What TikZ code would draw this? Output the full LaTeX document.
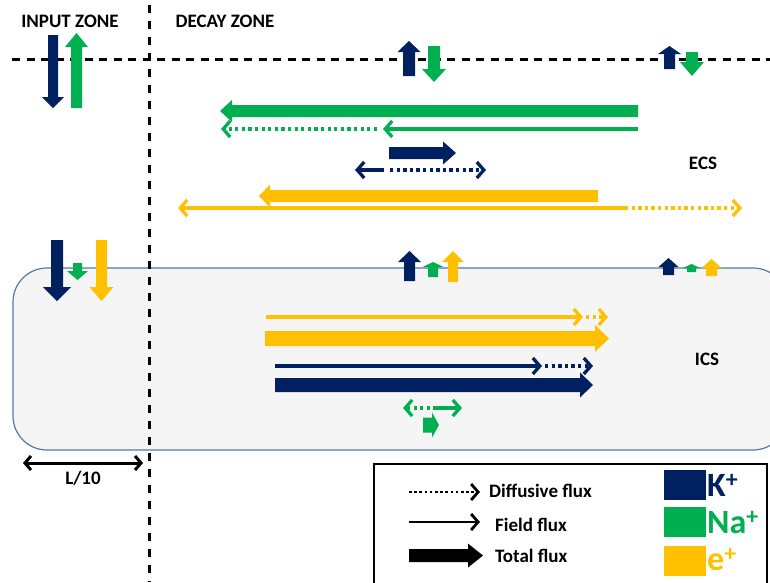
\documentclass[tikz,border=0pt]{standalone}
\usepackage{fontspec}
\setmainfont{Carlito}
\usetikzlibrary{arrows.meta}
\definecolor{navy}{HTML}{002060}
\definecolor{grn}{HTML}{00B050}
\definecolor{ylw}{HTML}{FFC000}
\definecolor{membr}{HTML}{5876A6}
\definecolor{cellfill}{HTML}{F5F5F5}
\newcommand\blockH[7]{\fill[#1] (#2,{#5-#6}) -- (#3,{#5-#6}) -- (#3,{#5-#7}) -- (#4,#5) -- (#3,{#5+#7}) -- (#3,{#5+#6}) -- (#2,{#5+#6}) -- cycle;}
\newcommand\blockV[7]{\fill[#1] ({#5-#6},#2) -- ({#5-#6},#3) -- ({#5-#7},#3) -- (#5,#4) -- ({#5+#7},#3) -- ({#5+#6},#3) -- ({#5+#6},#2) -- cycle;}
\tikzset{
  lbl/.style={font=\fontsize{19}{21}\selectfont\bfseries, inner sep=0pt},
  ion/.style={font=\fontsize{34}{36}\selectfont\bfseries, inner sep=0pt, anchor=west},
  fld/.style={line width=3.3pt, -{Straight Barb[length=7pt,width=16pt]}},
  dif/.style={fld, dash pattern=on 3.3pt off 3.3pt},
  zoneline/.style={line width=3pt, black},
}
\begin{document}
\begin{tikzpicture}[x=1pt,y=-1pt]
\useasboundingbox (0,0) rectangle (770,582);
% cell (ICS)
\begin{scope}
\clip (0,0) rectangle (770,582);
\draw[membr, line width=1.2pt, fill=cellfill, rounded corners=34pt] (13,268) rectangle (787,450);
\end{scope}
% zone lines
\draw[zoneline, dash pattern=on 8pt off 6.5pt] (12,59) -- (770,59);
\draw[zoneline, dash pattern=on 8pt off 8pt] (149,5) -- (149,582);
% titles
\node[lbl] (inz) at (70,21) {INPUT ZONE};
\node[lbl] (dcz) at (225,21) {DECAY ZONE};
\node[lbl] (ecs) at (703,163) {ECS};
\node[lbl] (ics) at (707,359) {ICS};
% input zone top arrows
\blockV{navy}{35}{97}{108}{53}{5}{11}
\blockV{grn}{108}{47}{33}{76.5}{5.5}{11.5}
% decay zone top arrows
\blockV{navy}{76}{52}{41}{409}{6}{11.5}
\blockV{grn}{46}{69}{82}{434}{6}{12}
\blockV{navy}{69}{54}{46}{669.5}{5.5}{11.5}
\blockV{grn}{52}{62}{76}{692}{6}{12}
% ECS fluxes
\blockH{grn}{638}{232}{220}{111}{6}{11}
\draw[fld, grn] (638,129) -- (383,129);
\draw[dif, grn] (377,129) -- (221,129);
\blockH{navy}{389}{443}{456}{153}{6}{11.5}
\draw[fld, navy] (384,170) -- (355,170);
\draw[dif, navy] (390,170) -- (486,170);
\blockH{ylw}{598}{270}{259}{196}{6}{11.5}
\draw[fld, ylw] (625,208) -- (178,208);
\draw[dif, ylw] (625,208) -- (742,208);
% membrane arrows, input zone
\blockV{navy}{240}{287}{301}{57}{6}{14}
\blockV{grn}{263}{271}{280}{77.5}{4.5}{10.5}
\blockV{ylw}{240}{287}{301}{101.5}{5.5}{12}
% membrane arrows, decay zone
\blockV{navy}{281}{262}{251}{409.5}{5.5}{11.5}
\blockV{grn}{277}{267}{262}{433}{5}{10.5}
\blockV{ylw}{282}{262}{251}{453}{5}{11}
\blockV{navy}{275}{267}{258}{668.5}{5.5}{10}
\blockV{grn}{272}{268}{264}{691.5}{4.5}{8.5}
\blockV{ylw}{276}{268}{259}{711.5}{5.5}{10}
% ICS fluxes
\draw[fld, ylw] (266,317) -- (583,317);
\draw[dif, ylw] (586,317) -- (608,317);
\blockH{ylw}{265}{595}{609}{338.5}{7.5}{13.5}
\draw[fld, navy] (275,366) -- (542,366);
\draw[dif, navy] (545,366) -- (593,366);
\blockH{navy}{275}{580}{593}{385}{7}{12.5}
\draw[dif, grn] (430,408) -- (403,408);
\draw[fld, grn] (433,408) -- (462,408);
\blockH{grn}{423}{432}{439}{425}{7.5}{12.5}
% L/10
\coordinate (la) at (23,463);
\coordinate (lb) at (143,463);
\draw[line width=3pt, {Straight Barb[length=6pt,width=14pt]}-{Straight Barb[length=6pt,width=14pt]}] (la) -- (lb);
\node[lbl] (l10) at (83,478) {L/10};
% legend
\draw[line width=2.4pt] (374,600) -- (374,464) -- (767,464) -- (767,600);
\draw[fld, black, line width=2.8pt, dash pattern=on 2.6pt off 2.6pt] (409,492) -- (480,492);
\node[lbl, anchor=west] (tdif) at (489,491) {Diffusive flux};
\draw[fld, black, line width=2.8pt] (409,522) -- (480,522);
\node[lbl, anchor=west] (tfld) at (495,525) {Field flux};
\blockH{black}{409}{468}{483}{555.5}{6.5}{12}
\node[lbl, anchor=west] (ttot) at (495,556) {Total flux};
\fill[navy] (664,470) rectangle (706,500);
\fill[grn] (664,507) rectangle (706,537);
\fill[ylw] (664,546) rectangle (706,576);
\node[ion, navy] (kp) at (707,485) {K\textsuperscript{+}};
\node[ion, grn] (nap) at (707,523) {Na\textsuperscript{+}};
\node[ion, ylw] (ep) at (707,560) {e\textsuperscript{+}};
\end{tikzpicture}
\end{document}
